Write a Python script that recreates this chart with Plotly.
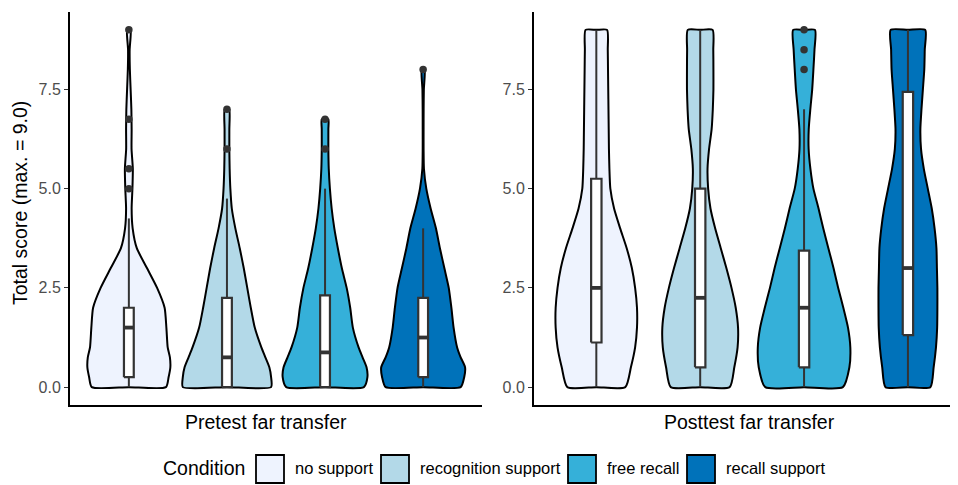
import plotly.graph_objects as go

# page is 958x485; the html body adds an 8px margin, so the figure itself is 950x477
PAGE_OFF = 8
W, H = 958 - PAGE_OFF, 485 - PAGE_OFF

# ---------------- data ----------------
conditions = ["no support", "recognition support", "free recall", "recall support"]
panel_titles = ["Pretest far transfer", "Posttest far transfer"]
y_tick_vals = [0, 2.5, 5, 7.5]
y_tick_text = ["0.0", "2.5", "5.0", "7.5"]
y_title = "Total score (max. = 9.0)"
legend_title = "Condition"

# violin density profiles (relative width, 1 = widest violin of the panel)
pre_no_support_y = [0, .25, .5, .75, 1, 1.5, 2, 2.5, 3, 3.5, 4, 4.5, 5, 5.5, 6, 6.5, 7, 7.5, 8, 8.5, 9]
pre_no_support_w = [0.84, 0.90, 0.94, 0.93, 0.88, 0.85, 0.81, 0.64, 0.41, 0.18, 0.086, 0.063, 0.081, 0.09,
                    0.061, 0.063, 0.057, 0.04, 0.023, 0.018, 0.04]
pre_recognition_y = [0, .25, .5, .75, 1, 1.5, 2, 2.5, 3, 3.5, 4, 4.5, 5, 5.5, 6, 6.5, 7]
pre_recognition_w = [1.0, 1.0, 0.96, 0.87, 0.78, 0.63, 0.54, 0.46, 0.38, 0.29, 0.19, 0.11, 0.077, 0.061,
                     0.054, 0.054, 0.052]
pre_free_recall_y = [0, .25, .5, .75, 1, 1.5, 2, 2.5, 3, 3.5, 4, 4.5, 5, 5.5, 6, 6.5, 6.75]
pre_free_recall_w = [0.88, 0.96, 0.94, 0.85, 0.76, 0.63, 0.57, 0.49, 0.38, 0.29, 0.21, 0.15, 0.11, 0.084,
                     0.075, 0.075, 0.075]
pre_recall_support_y = [0, .25, .5, .75, 1, 1.5, 2, 2.5, 3, 3.5, 4, 4.5, 5, 5.5, 6, 6.5, 7, 7.5, 8]
pre_recall_support_w = [0.85, 0.93, 0.95, 0.85, 0.77, 0.69, 0.64, 0.58, 0.48, 0.38, 0.29, 0.17, 0.072, 0.018,
                        0.01, 0.01, 0.011, 0.016, 0.034]

post_y = [0, 0.5, 1, 1.5, 2, 2.5, 3, 3.5, 4, 4.5, 5, 5.5, 6, 6.5, 7, 7.5, 8, 8.5, 9]
post_no_support_w = [0.62, 0.74, 0.83, 0.87, 0.87, 0.83, 0.76, 0.65, 0.51, 0.38, 0.30, 0.28, 0.27, 0.265,
                     0.26, 0.255, 0.25, 0.245, 0.23]
post_recognition_w = [0.63, 0.73, 0.80, 0.81, 0.76, 0.67, 0.56, 0.44, 0.32, 0.22, 0.17, 0.157, 0.19, 0.245,
                      0.27, 0.283, 0.283, 0.28, 0.266]
post_free_recall_w = [0.83, 0.97, 0.99, 0.94, 0.84, 0.73, 0.63, 0.52, 0.41, 0.31, 0.20, 0.136, 0.098, 0.10,
                      0.134, 0.174, 0.20, 0.223, 0.234]
post_recall_support_w = [0.48, 0.55, 0.60, 0.625, 0.63, 0.63, 0.62, 0.61, 0.57, 0.51, 0.425, 0.34, 0.28,
                         0.266, 0.29, 0.32, 0.35, 0.36, 0.37]

# boxplot statistics
pre_q1 = [0.25, 0, 0, 0.25]
pre_median = [1.5, 0.75, 0.875, 1.25]
pre_q3 = [2.0, 2.25, 2.3125, 2.25]
pre_lower = [0, 0, 0, 0]
pre_upper = [4.25, 4.75, 5.0, 4.0]
pre_outliers = [[5.0, 5.5, 6.75, 9.0], [6.0, 7.0], [6.0, 6.75], [8.0]]

post_q1 = [1.125, 0.5, 0.5, 1.3125]
post_median = [2.5, 2.25, 2.0, 3.0]
post_q3 = [5.25, 5.0, 3.4375, 7.4375]
post_lower = [0, 0, 0, 0]
post_upper = [9.0, 9.0, 7.0, 9.0]
post_outliers = [[], [], [8.0, 8.5, 9.0], []]

# ---------------- style ----------------
fill_colors = ["#EEF3FE", "#B3D9E8", "#35B0D9", "#0072BA"]
FONT = "Liberation Sans, Arial, sans-serif"
GREY20 = "#333333"
MAX_HALF = 0.45
BOX_W = 0.1


def px(x):
    """page pixel x -> paper coordinate"""
    return (x - PAGE_OFF) / W


def py(y):
    """page pixel y -> paper coordinate"""
    return 1 - (y - PAGE_OFF) / H


pre_profiles = [(pre_no_support_y, pre_no_support_w), (pre_recognition_y, pre_recognition_w),
                (pre_free_recall_y, pre_free_recall_w), (pre_recall_support_y, pre_recall_support_w)]
post_profiles = [(post_y, post_no_support_w), (post_y, post_recognition_w),
                 (post_y, post_free_recall_w), (post_y, post_recall_support_w)]

panels = [
    dict(xa="x", ya="y", prof=pre_profiles, q1=pre_q1, med=pre_median, q3=pre_q3,
         lo=pre_lower, hi=pre_upper, out=pre_outliers),
    dict(xa="x2", ya="y2", prof=post_profiles, q1=post_q1, med=post_median, q3=post_q3,
         lo=post_lower, hi=post_upper, out=post_outliers),
]

fig = go.Figure()
common_tr = dict(showlegend=False, hoverinfo="skip")

for p in panels:
    ax = dict(xaxis=p["xa"], yaxis=p["ya"])
    # violins
    for i, (ys, ws) in enumerate(p["prof"]):
        c = i + 1
        half = [MAX_HALF * w for w in ws]
        xs = [c] + [c + h for h in half] + [c] + [c - h for h in reversed(half)] + [c]
        yv = [ys[0]] + list(ys) + [ys[-1]] + list(reversed(ys)) + [ys[0]]
        fig.add_trace(go.Scatter(
            x=xs, y=yv, mode="lines", fill="toself", fillcolor=fill_colors[i],
            line=dict(color="black", width=2, shape="spline", smoothing=0.6), **ax, **common_tr))
    # boxplots (drawn as scatter so that they sit above the violin fills)
    for i in range(4):
        c = i + 1
        l, r = c - BOX_W / 2, c + BOX_W / 2
        fig.add_trace(go.Scatter(
            x=[c, c, None, c, c], y=[p["lo"][i], p["q1"][i], None, p["q3"][i], p["hi"][i]],
            mode="lines", line=dict(color=GREY20, width=2), **ax, **common_tr))
        fig.add_trace(go.Scatter(
            x=[l, r, r, l, l], y=[p["q1"][i], p["q1"][i], p["q3"][i], p["q3"][i], p["q1"][i]],
            mode="lines", fill="toself", fillcolor="white",
            line=dict(color=GREY20, width=2.2), **ax, **common_tr))
        fig.add_trace(go.Scatter(
            x=[l, r], y=[p["med"][i], p["med"][i]], mode="lines",
            line=dict(color=GREY20, width=3.8), **ax, **common_tr))
    # outliers
    for i in range(4):
        if p["out"][i]:
            c = i + 1
            fig.add_trace(go.Scatter(
                x=[c] * len(p["out"][i]), y=p["out"][i], mode="markers",
                marker=dict(size=7.5, color=GREY20), **ax, **common_tr))

y_dom = [py(405), py(12)]
common_x = dict(showline=True, linecolor="black", linewidth=2, showticklabels=False, ticks="",
                showgrid=False, zeroline=False)
common_y = dict(showline=True, linecolor="black", linewidth=2, showgrid=False, zeroline=False,
                range=[-0.45, 9.45], tickvals=y_tick_vals, ticktext=y_tick_text, ticks="outside",
                ticklen=4, tickwidth=1.3, tickcolor=GREY20,
                tickfont=dict(family=FONT, size=16, color="#4D4D4D"), domain=y_dom)

annotations = [
    dict(text=panel_titles[0], x=px(266), y=py(422), xref="paper", yref="paper", showarrow=False,
         xanchor="center", yanchor="middle", font=dict(family=FONT, size=19.5, color="black")),
    dict(text=panel_titles[1], x=px(749), y=py(422), xref="paper", yref="paper", showarrow=False,
         xanchor="center", yanchor="middle", font=dict(family=FONT, size=19.5, color="black")),
    dict(text=y_title, x=px(20), y=py(203), xref="paper", yref="paper", showarrow=False, textangle=-90,
         xanchor="center", yanchor="middle", font=dict(family=FONT, size=19.5, color="black")),
    dict(text=legend_title, x=px(161), y=py(468), xref="paper", yref="paper", showarrow=False,
         xanchor="left", yanchor="middle", font=dict(family=FONT, size=19.5, color="black")),
]

shapes = []
key_left = [256, 381, 568, 687]
text_left = [293, 418, 605, 724]
for i, name in enumerate(conditions):
    shapes.append(dict(type="rect", xref="paper", yref="paper",
                       x0=px(key_left[i]), x1=px(key_left[i] + 28), y0=py(483), y1=py(455),
                       fillcolor=fill_colors[i], line=dict(color="black", width=1.8)))
    annotations.append(dict(text=name, x=px(text_left[i]), y=py(468), xref="paper", yref="paper",
                            showarrow=False, xanchor="left", yanchor="middle",
                            font=dict(family=FONT, size=16.5, color="black")))

fig.update_layout(
    width=W, height=H, margin=dict(l=0, r=0, t=0, b=0),
    paper_bgcolor="white", plot_bgcolor="white", showlegend=False,
    xaxis=dict(domain=[px(70), px(482)], range=[0.4, 4.6], anchor="y", **common_x),
    xaxis2=dict(domain=[px(534), 1.0], range=[0.4, 4.482], anchor="y2", **common_x),
    yaxis=dict(anchor="x", **common_y),
    yaxis2=dict(anchor="x2", **common_y),
    annotations=annotations, shapes=shapes,
)

fig.write_html("out.html")
